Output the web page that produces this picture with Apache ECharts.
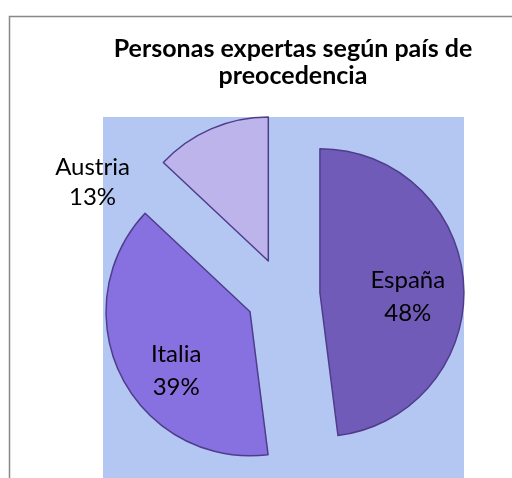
<!DOCTYPE html>
<html>
<head>
<meta charset="utf-8">
<script src="https://cdn.jsdelivr.net/npm/echarts@6/dist/echarts.min.js"></script>
<style>html,body{margin:0;padding:0;background:#fff;}#main{width:512px;height:478px;}</style>
</head>
<body>
<div id="main"></div>
<script>
const titleText = 'Personas expertas según país de\npreocedencia';
const categories = ['España', 'Italia', 'Austria'];
const values = [48, 39, 13];

const colors = ['#705CB8', '#8771E0', '#BCB4EA'];
const labelShifts = [[13, 9], [-7, 25], [-146, -10]];
const labelLineHeights = [33, 33, 30];

const chart = echarts.init(document.getElementById('main'), null, {renderer: 'canvas'});
const data = categories.map((c, i) => ({
  name: c,
  value: values[i],
  selected: true,
  itemStyle: {color: colors[i]},
  label: {lineHeight: labelLineHeights[i]}
}));

chart.setOption({
  animation: false,
  backgroundColor: '#ffffff',
  title: {
    text: titleText,
    left: 288,
    top: 30,
    textAlign: 'center',
    textStyle: {fontFamily: 'Lato', fontWeight: 'bold', fontSize: 25, lineHeight: 27, color: '#000'}
  },
  graphic: [
    {type: 'rect', z: -10, shape: {x: 9.5, y: 16.5, width: 700, height: 700}, style: {fill: '#fff', stroke: '#888888', lineWidth: 1.5}},
    {type: 'rect', z: -5, shape: {x: 103, y: 117, width: 361, height: 400}, style: {fill: '#B4C7F2'}}
  ],
  series: [{
    type: 'pie',
    center: [283, 295],
    radius: 144,
    startAngle: 90,
    clockwise: true,
    selectedMode: 'multiple',
    selectedOffset: 37,
    avoidLabelOverlap: false,
    emphasis: {disabled: true},
    select: {itemStyle: {borderColor: '#4F3D8C', borderWidth: 1.5}},
    itemStyle: {borderColor: '#4F3D8C', borderWidth: 1.5},
    label: {
      show: true,
      position: 'inside',
      formatter: '{b}\n{d}%',
      fontFamily: 'Lato',
      fontSize: 24,
      lineHeight: 32,
      color: '#000',
      align: 'center'
    },
    labelLayout: function (params) {
      const s = labelShifts[params.dataIndex];
      return {dx: s[0], dy: s[1], hideOverlap: false};
    },
    labelLine: {show: false},
    data: data
  }]
});
</script>
</body>
</html>
